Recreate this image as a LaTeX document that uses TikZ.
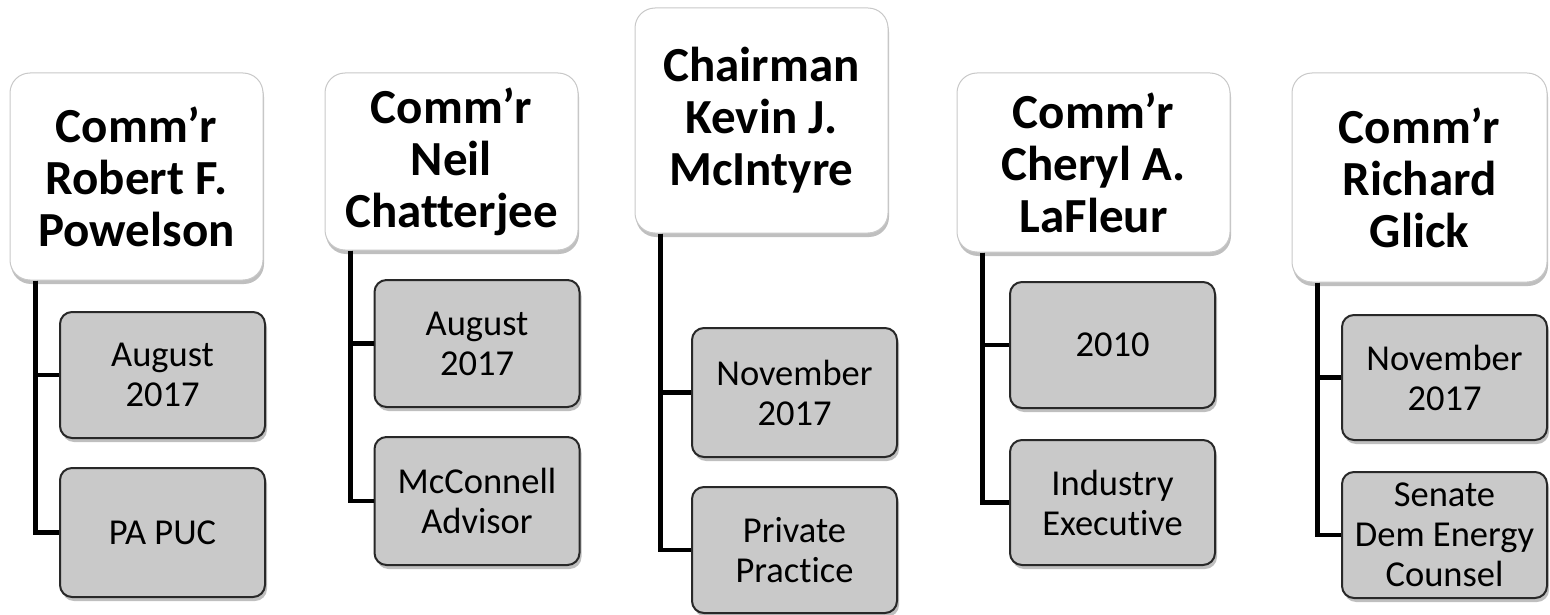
\documentclass[tikz,border=0pt]{standalone}
\usepackage{fontspec}
\setmainfont{Carlito}[Ligatures=NoCommon]
\usetikzlibrary{shadows}
\definecolor{childfill}{RGB}{201,201,201}
\definecolor{childdraw}{RGB}{40,40,40}
\definecolor{topdraw}{RGB}{200,200,200}
\tikzset{
  topbox/.style={draw=topdraw, line width=1pt, fill=white, rounded corners=20pt,
    align=center, inner sep=0pt, font=\fontsize{49}{52}\selectfont\bfseries,
    drop shadow={shadow xshift=1pt, shadow yshift=-4pt, opacity=0.25, fill=black}},
  childbox/.style={draw=childdraw, line width=2pt, fill=childfill, rounded corners=12pt,
    align=center, inner sep=0pt, minimum width=205pt, font=\fontsize{36.5}{40}\selectfont,
    drop shadow={shadow xshift=2pt, shadow yshift=-4pt, opacity=0.25, fill=black}},
  conn/.style={line width=4.5pt, draw=black}
}
\begin{document}
\begin{tikzpicture}[x=1pt,y=-1pt]
\useasboundingbox (0,0) rectangle (1550,615);
% column 1
\node[topbox, minimum width=253pt, minimum height=207pt] (t1) at (136.5,176.5) {Comm’r\\Robert F.\\Powelson};
\node[childbox, minimum height=126pt] (a1) at (162.5,375) {August\\2017};
\node[childbox, minimum height=129pt] (b1) at (162.5,532.5) {PA PUC};
% column 2
\node[topbox, minimum width=253pt, minimum height=177pt] (t2) at (451.5,161.5) {Comm’r\\Neil\\Chatterjee};
\node[childbox, minimum height=127pt] (a2) at (477,343.5) {August\\2017};
\node[childbox, minimum height=128pt] (b2) at (477,501) {McConnell\\Advisor};
% column 3
\node[topbox, minimum width=253pt, minimum height=225pt] (t3) at (761.5,120.5) {Chairman\\Kevin J.\\McIntyre};
\node[childbox, minimum height=129pt] (a3) at (794.5,392.5) {November\\2017};
\node[childbox, minimum height=126pt] (b3) at (794.5,550) {Private\\Practice};
% column 4
\node[topbox, minimum width=273pt, minimum height=179pt] (t4) at (1093.5,162.5) {Comm’r\\Cheryl A.\\LaFleur};
\node[childbox, minimum height=126pt] (a4) at (1112.5,345) {2010};
\node[childbox, minimum height=125pt] (b4) at (1112.5,502.5) {Industry\\Executive};
% column 5
\node[topbox, minimum width=255pt, minimum height=209pt] (t5) at (1419.5,177.5) {Comm’r\\Richard\\Glick};
\node[childbox, minimum height=125pt] (a5) at (1444.5,377.5) {November\\2017};
\node[childbox, minimum height=126pt] (b5) at (1444.5,535) {Senate\\Dem Energy\\Counsel};
% connectors
\foreach \i in {1,...,5}{
  \draw[conn] ([xshift=26pt]t\i.south west) |- (a\i.west);
  \draw[conn] ([xshift=26pt]t\i.south west) |- (b\i.west);
}
\end{tikzpicture}
\end{document}
